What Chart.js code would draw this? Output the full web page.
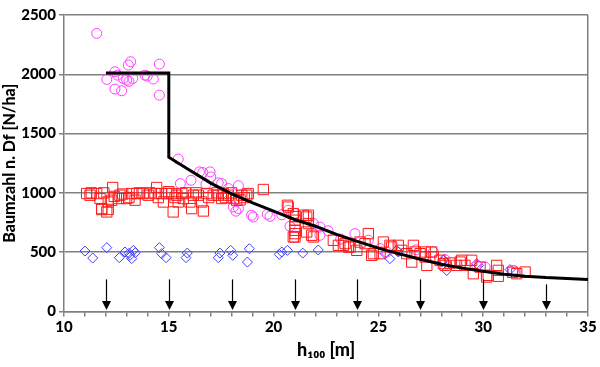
<!DOCTYPE html>
<html>
<head>
<meta charset="utf-8">
<script src="https://cdn.jsdelivr.net/npm/chart.js@4"></script>
<style>
html,body{margin:0;padding:0;background:#fff;}
#wrap{width:600px;height:367px;position:relative;}
</style>
</head>
<body>
<div id="wrap"><canvas id="c" width="600" height="367"></canvas></div>
<script>
// ---- data ----
const curveX = [12, 15, 15, 16, 17, 18, 19, 20, 21, 22, 23, 24, 25, 26, 27, 28, 29, 30, 31, 32, 33, 34, 35];
const curveY = [2010, 2010, 1300, 1190, 1082, 992, 915, 845, 775, 718, 650, 590, 534, 485, 440, 398, 365, 338, 314, 297, 285, 277, 270];

const circX = [11.56,12.04,12.43,12.55,12.43,12.75,12.83,12.99,13.1,13.07,13.18,13.28,13.86,13.97,14.26,14.55,14.55,
  15.45,15.55,16.06,16.46,16.62,16.97,17.0,16.77,17.36,17.52,17.84,18.32,17.52,18.08,18.2,18.32,18.95,19.03,19.7,19.83,20.39,20.7,20.78,21.02,21.9,22.21,22.21,22.6,23.2,23.88,24.52,25.08,25.4,26.8,27.62,28.18,29.69,30.09,31.44];
const circY = [2345,1957,2021,1993,1875,1861,1965,1951,1940,2078,2106,1965,1993,1985,1960,2086,1824,
  1285,1078,1106,1177,1171,1177,1134,1073,1084,1078,1036,1060,994,881,845,867,811,796,820,802,815,853,718,827,741,712,642,680,610,656,600,530,501,520,501,437,388,374,346];

const sqX = [11.08,11.24,11.3,11.56,11.72,11.80,11.8,11.9,12.04,12.11,12.11,12.27,12.32,12.4,12.59,12.67,12.8,12.99,13.1,13.23,13.39,13.47,13.6,13.78,14.02,14.1,14.34,14.42,14.5,14.66,14.74,14.9,15.0,15.14,15.21,15.3,15.38,15.45,15.62,15.69,15.8,16.01,16.09,16.17,16.3,16.41,16.57,16.65,16.81,16.9,17.12,17.3,17.36,17.52,17.6,17.7,17.84,18.0,18.08,18.24,18.4,18.48,18.6,18.72,18.79,19.51,
  20.66,20.7,20.94,21.02,21.02,21.02,21.02,21.02,20.94,21.05,21.42,21.58,21.66,21.66,21.58,21.82,21.9,22.85,23.09,23.33,23.41,23.57,23.65,23.97,24.12,24.36,24.52,24.68,24.76,25.08,25.24,25.55,25.63,25.95,26.11,26.35,26.59,26.67,26.75,26.99,27.23,27.23,27.31,27.54,27.62,27.94,28.1,28.18,28.42,28.73,28.9,28.97,29.13,29.45,29.53,29.85,30.16,30.24,30.64,30.72,30.72,31.6,32.0,31.4];
const sqY = [994,980,1000,994,952,867,859,1000,839,923,860,938,1045,970,952,980,990,952,960,994,938,994,1000,994,980,1000,994,1045,960,994,923,994,1010,994,839,960,980,923,994,952,1000,923,867,980,1000,980,923,847,994,960,980,1000,980,952,994,960,980,1000,952,938,940,980,960,980,994,1028,
  895,880,825,769,712,656,684,628,628,800,811,796,811,741,670,642,628,600,557,557,572,543,543,515,585,572,656,473,487,487,585,557,543,557,515,487,416,557,501,487,459,501,388,501,459,431,403,388,408,388,416,431,388,431,318,374,290,304,388,346,296,318,332,330];

const diaX = [11.0,11.37,12.04,12.64,12.91,13.1,13.15,13.23,13.31,13.4,14.55,14.66,14.87,15.82,15.88,17.36,17.44,17.95,18.05,18.75,18.84,20.27,20.39,20.66,21.39,22.13,25.32,25.55,25.87,25.95,28.02,28.1,28.26,29.69,29.78,31.28];
const diaY = [509,450,538,453,501,490,473,445,515,495,538,487,453,453,492,453,492,515,473,416,529,481,501,515,492,518,487,445,515,501,416,431,345,403,388,353];

const arrowX = [12, 15, 18, 21, 24, 27, 30, 33];
const arrowTop = [270, 270, 270, 270, 270, 270, 270, 228];
const arrowTip = [12, 12, 12, 12, 12, 12, 12, 12];

const xTicks = [10, 15, 20, 25, 30, 35];
const yTicks = [0, 500, 1000, 1500, 2000, 2500];

const toPts = (xs, ys) => xs.map((x, i) => ({x: x, y: ys[i]}));

const FONT = "Lato, 'DejaVu Sans', sans-serif";
const GRID = '#808080';

const arrowPlugin = {
  id: 'arrows',
  afterDatasetsDraw(chart) {
    const {ctx, scales: {x, y}} = chart;
    ctx.save();
    ctx.strokeStyle = '#000';
    ctx.fillStyle = '#000';
    ctx.lineWidth = 1.2;
    arrowX.forEach((v, i) => {
      const px = Math.round(x.getPixelForValue(v)) + 0.5;
      const top = y.getPixelForValue(arrowTop[i]);
      const tip = y.getPixelForValue(arrowTip[i]);
      ctx.beginPath();
      ctx.moveTo(px, top);
      ctx.lineTo(px, tip - 8);
      ctx.stroke();
      ctx.beginPath();
      ctx.moveTo(px - 4.5, tip - 9);
      ctx.lineTo(px + 4.5, tip - 9);
      ctx.lineTo(px, tip);
      ctx.closePath();
      ctx.fill();
    });
    ctx.restore();
  }
};

new Chart(document.getElementById('c'), {
  type: 'scatter',
  data: {
    datasets: [
      {
        type: 'line',
        data: toPts(curveX, curveY),
        borderColor: '#000',
        borderWidth: 3,
        pointRadius: 0,
        fill: false,
        tension: 0,
        showLine: true
      },
      {
        data: toPts(sqX, sqY),
        pointStyle: 'rect',
        radius: 7.3,
        borderColor: '#ff1a1a',
        backgroundColor: 'rgba(0,0,0,0)',
        borderWidth: 1
      },
      {
        data: toPts(circX, circY),
        pointStyle: 'circle',
        radius: 5,
        borderColor: '#ff40ff',
        backgroundColor: 'rgba(0,0,0,0)',
        borderWidth: 1
      },
      {
        data: toPts(diaX, diaY),
        pointStyle: 'rectRot',
        radius: 5,
        borderColor: '#4040ff',
        backgroundColor: 'rgba(0,0,0,0)',
        borderWidth: 1
      }
    ]
  },
  options: {
    responsive: false,
    animation: false,
    events: [],
    layout: {padding: {left: 0, right: 12, top: 15, bottom: 6}},
    plugins: {legend: {display: false}, tooltip: {enabled: false}},
    scales: {
      x: {
        type: 'linear',
        min: 10, max: 35,
        afterBuildTicks(axis) {
          const t = [];
          for (let v = 10; v <= 35; v++) t.push({value: v});
          axis.ticks = t;
        },
        ticks: {
          autoSkip: false,
          maxRotation: 0,
          color: '#000',
          padding: 2,
          font: {family: FONT, size: 15, weight: '900'},
          callback: (v) => xTicks.includes(v) ? String(v) : ''
        },
        grid: {
          color: (c) => (c.tick && c.tick.value === 35) ? GRID : 'rgba(0,0,0,0)',
          tickColor: GRID,
          tickLength: 5,
          lineWidth: 1.5
        },
        border: {color: GRID, width: 1.5},
        title: {
          display: true,
          text: 'h\u2081\u2080\u2080 [m]',
          color: '#000',
          font: {family: FONT, size: 18, weight: '900'},
          padding: {top: 1, bottom: 0}
        }
      },
      y: {
        min: 0, max: 2500,
        afterBuildTicks(axis) { axis.ticks = yTicks.map(v => ({value: v})); },
        afterFit(axis) { axis.width = 64; },
        ticks: {
          color: '#000',
          padding: 3,
          font: {family: FONT, size: 15, weight: '900'},
          callback: (v) => String(v)
        },
        grid: {color: GRID, tickColor: GRID, tickLength: 5, lineWidth: 1.5},
        border: {color: GRID, width: 1.5},
        title: {
          display: true,
          text: 'Baumzahl n. Df [N/ha]',
          color: '#000',
          font: {family: FONT, size: 16, weight: '900'},
          padding: {top: 0, bottom: 2}
        }
      }
    }
  },
  plugins: [arrowPlugin]
});
</script>
</body>
</html>
